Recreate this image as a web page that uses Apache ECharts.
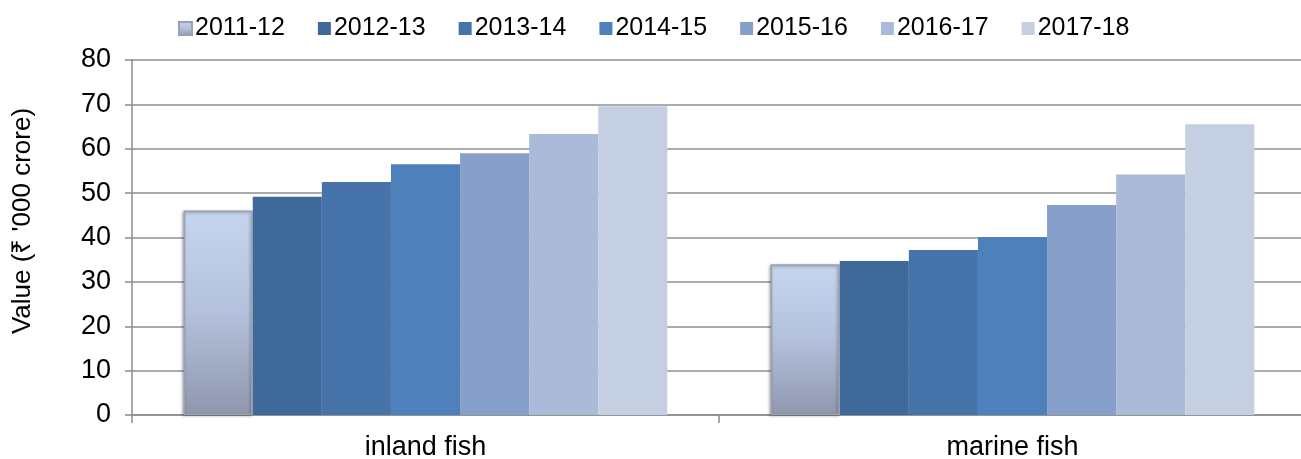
<!DOCTYPE html>
<html>
<head>
<meta charset="utf-8">
<script src="https://cdn.jsdelivr.net/npm/echarts@6/dist/echarts.min.js"></script>
<style>
html,body{margin:0;padding:0;background:#fff;}
#chart{width:1301px;height:459px;}
</style>
</head>
<body>
<div id="chart"></div>
<script>
// ---- data ----
const categories = ['inland fish', 'marine fish'];
const years = ['2011-12', '2012-13', '2013-14', '2014-15', '2015-16', '2016-17', '2017-18'];
const v2011_12 = [46.1, 34.0];
const v2012_13 = [49.2, 34.7];
const v2013_14 = [52.5, 37.2];
const v2014_15 = [56.5, 40.1];
const v2015_16 = [59.0, 47.3];
const v2016_17 = [63.3, 54.2];
const v2017_18 = [69.6, 65.5];
const yTicks = [0, 10, 20, 30, 40, 50, 60, 70, 80];
const yAxisTitle = "Value (\u20B9 '000 crore)";

const seriesValues = [v2011_12, v2012_13, v2013_14, v2014_15, v2015_16, v2016_17, v2017_18];
const colors = [
  null,
  '#3f6999',
  '#4673aa',
  '#4e80bc',
  '#86a0ca',
  '#aabad8',
  '#c4cfe2'
];
const FONT = "'Liberation Sans', Arial, sans-serif";

const bevel = {
  color: new echarts.graphic.LinearGradient(0, 0, 0, 1, [
    {offset: 0, color: '#c6d5ee'},
    {offset: 0.5, color: '#b4c1dc'},
    {offset: 1, color: '#8f97ae'}
  ]),
  borderColor: '#9ba1b4',
  borderWidth: 1.5,
  shadowColor: 'rgba(0,0,0,0.35)',
  shadowBlur: 3,
  shadowOffsetX: -1,
  shadowOffsetY: 1
};

const series = years.map((y, i) => ({
  name: y,
  type: 'bar',
  data: seriesValues[i],
  barGap: '0%',
  barCategoryGap: '17.6%',
  itemStyle: i === 0 ? bevel : {color: colors[i]},
  emphasis: {disabled: true}
}));

const chart = echarts.init(document.getElementById('chart'), null, {renderer: 'canvas'});
chart.setOption({
  animation: false,
  backgroundColor: '#fff',
  textStyle: {fontFamily: FONT},
  legend: {
    data: years,
    top: 11,
    left: 173,
    itemWidth: 13,
    itemHeight: 13,
    itemGap: 33,
    icon: 'rect',
    textStyle: {fontSize: 25, color: '#000', fontFamily: FONT, padding: [0, 0, 0, -2]}
  },
  grid: {left: 132, top: 60, width: 1174, bottom: 44, outerBoundsMode: 'none'},
  xAxis: {
    type: 'category',
    data: categories,
    axisLine: {lineStyle: {color: '#8c8c8c', width: 1.5}},
    axisTick: {show: true, length: 8, lineStyle: {color: '#8c8c8c', width: 1.5}},
    axisLabel: {fontSize: 27, color: '#000', margin: 19, fontFamily: FONT},
    splitLine: {show: false}
  },
  yAxis: {
    type: 'value',
    min: yTicks[0],
    max: yTicks[yTicks.length - 1],
    interval: 10,
    axisLine: {show: true, lineStyle: {color: '#8c8c8c', width: 1.5}},
    axisTick: {show: true, length: 7, lineStyle: {color: '#8c8c8c', width: 1.5}},
    axisLabel: {fontSize: 27, color: '#000', margin: 21, fontFamily: FONT},
    splitLine: {show: true, lineStyle: {color: '#8f8f8f', width: 1.5}}
  },
  graphic: [{
    type: 'text',
    x: 23,
    y: 221,
    rotation: Math.PI / 2,
    style: {
      text: yAxisTitle,
      fontSize: 26,
      fontFamily: FONT,
      fill: '#000',
      textAlign: 'center',
      textVerticalAlign: 'middle'
    }
  }],
  series: series
});
</script>
</body>
</html>
